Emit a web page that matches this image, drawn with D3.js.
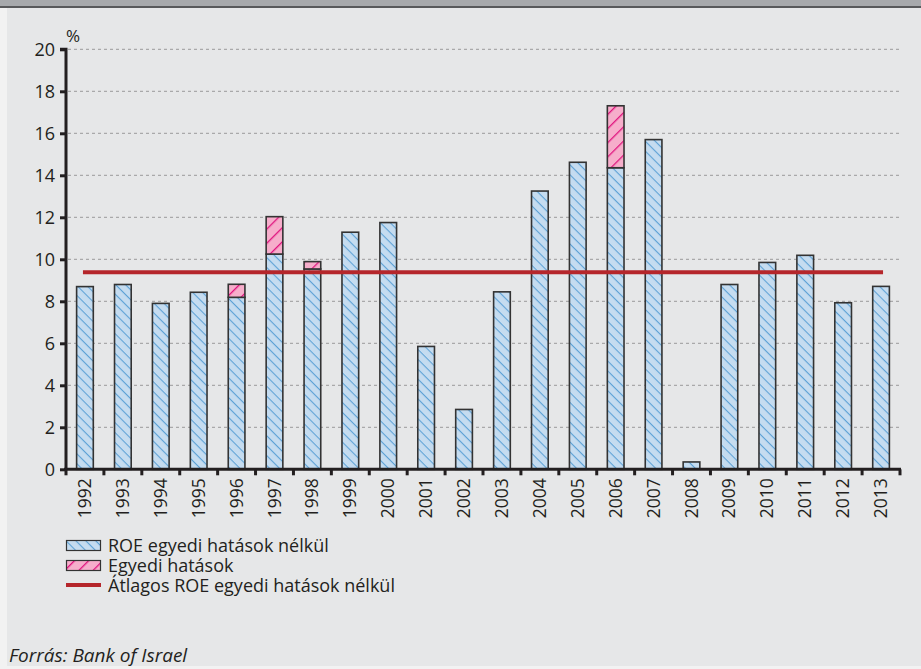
<!DOCTYPE html>
<html>
<head>
<meta charset="utf-8">
<script src="https://cdn.jsdelivr.net/npm/d3@7/dist/d3.min.js"></script>
<style>
  body { margin: 0; background: #f2f2f2; }
  svg { display: block; font-family: "Open Sans", sans-serif; }
</style>
</head>
<body>
<svg width="921" height="669"></svg>
<script>
//data
var years = ["1992", "1993", "1994", "1995", "1996", "1997", "1998", "1999", "2000", "2001", "2002",
    "2003", "2004", "2005", "2006", "2007", "2008", "2009", "2010", "2011", "2012", "2013"];
var roeBase = [8.7, 8.8, 7.9, 8.43, 8.19, 10.25, 9.54, 11.29, 11.75, 5.85, 2.85,
    8.45, 13.25, 14.62, 14.36, 15.7, 0.35, 8.8, 9.85, 10.19, 7.93, 8.71];
var oneOff = [0, 0, 0, 0, 0.62, 1.78, 0.35, 0, 0, 0, 0,
    0, 0, 0, 2.95, 0, 0, 0, 0, 0, 0, 0];
var avgRoe = 9.38;
var yTicks = [0, 2, 4, 6, 8, 10, 12, 14, 16, 18, 20];
var legendLabels = ["ROE egyedi hatások nélkül", "Egyedi hatások", "Átlagos ROE egyedi hatások nélkül"];

var svg = d3.select("svg");

//background panel
svg.append("rect").attr("x", 7).attr("y", 0).attr("width", 914).attr("height", 666).attr("fill", "#e6e7e8");
svg.append("rect").attr("x", 0).attr("y", 0).attr("width", 921).attr("height", 6).attr("fill", "#a7a9ac");
svg.append("rect").attr("x", 0).attr("y", 6).attr("width", 921).attr("height", 2).attr("fill", "#58595b");

//patterns
var defs = svg.append("defs");
var pBlue = defs.append("pattern").attr("id", "hatchBlue").attr("patternUnits", "userSpaceOnUse")
    .attr("width", 7).attr("height", 7).attr("patternTransform", "rotate(45)");
pBlue.append("rect").attr("width", 7).attr("height", 7).attr("fill", "#c5dcf0");
pBlue.append("line").attr("x1", 0).attr("y1", 0).attr("x2", 7).attr("y2", 0)
    .attr("stroke", "#5ea2d6").attr("stroke-width", 2.2);

var pPink = defs.append("pattern").attr("id", "hatchPink").attr("patternUnits", "userSpaceOnUse")
    .attr("width", 10).attr("height", 10).attr("patternTransform", "rotate(-45)");
pPink.append("rect").attr("width", 10).attr("height", 10).attr("fill", "#f6aecb");
pPink.append("line").attr("x1", 0).attr("y1", 0).attr("x2", 10).attr("y2", 0)
    .attr("stroke", "#e0147f").attr("stroke-width", 2.6);

//scales
var x = d3.scaleBand().domain(years).range([66, 900]).paddingInner(0.56).paddingOuter(0.28);
var y = d3.scaleLinear().domain([0, 20]).range([469.3, 49.3]);

//gridlines
svg.append("g").selectAll("line")
    .data(yTicks.filter(function (d) { return d > 0; }))
    .enter().append("line")
    .attr("x1", 68).attr("x2", 900)
    .attr("y1", function (d) { return y(d); }).attr("y2", function (d) { return y(d); })
    .attr("stroke", "#9a9a9a").attr("stroke-width", 1).attr("stroke-dasharray", "3,3");

//bars
var bars = svg.append("g");
bars.selectAll(".base").data(years).enter().append("rect")
    .attr("class", "base")
    .attr("x", function (d) { return x(d); })
    .attr("width", x.bandwidth())
    .attr("y", function (d, i) { return y(roeBase[i]); })
    .attr("height", function (d, i) { return y(0) - y(roeBase[i]); })
    .attr("fill", "url(#hatchBlue)")
    .attr("stroke", "#333").attr("stroke-width", 1.6);

bars.selectAll(".oneoff").data(years.filter(function (d, i) { return oneOff[i] > 0; })).enter().append("rect")
    .attr("class", "oneoff")
    .attr("x", function (d) { return x(d); })
    .attr("width", x.bandwidth())
    .attr("y", function (d) { var i = years.indexOf(d); return y(roeBase[i] + oneOff[i]); })
    .attr("height", function (d) { var i = years.indexOf(d); return y(roeBase[i]) - y(roeBase[i] + oneOff[i]); })
    .attr("fill", "url(#hatchPink)")
    .attr("stroke", "#333").attr("stroke-width", 1.6);

//average line
svg.append("line")
    .attr("x1", x(years[0]) + x.bandwidth() / 2 - 2)
    .attr("x2", x(years[years.length - 1]) + x.bandwidth() / 2 + 2)
    .attr("y1", y(avgRoe)).attr("y2", y(avgRoe))
    .attr("stroke", "#b5262b").attr("stroke-width", 4);

//y axis
var yAxis = svg.append("g").attr("transform", "translate(66,0)")
    .call(d3.axisLeft(y).tickValues(yTicks).tickSize(6).tickPadding(5));
yAxis.select(".domain").attr("stroke", "#231f20").attr("stroke-width", 3).attr("d", "M-6,49.3H0V469.3");
yAxis.selectAll(".tick line").attr("stroke", "#231f20").attr("stroke-width", 3);
yAxis.selectAll("text").attr("font-size", 18).attr("fill", "#231f20").attr("font-family", "Open Sans");

svg.append("text").attr("x", 66).attr("y", 42).attr("font-size", 17).attr("fill", "#231f20").text("%");

//x axis
var xg = svg.append("g").attr("transform", "translate(0," + y(0) + ")");
xg.append("line").attr("x1", 64).attr("x2", 901).attr("y1", 0).attr("y2", 0)
    .attr("stroke", "#231f20").attr("stroke-width", 3);
xg.selectAll(".xtick").data(d3.range(years.length + 1)).enter().append("line")
    .attr("x1", function (d) { return 66 + d * x.step(); })
    .attr("x2", function (d) { return 66 + d * x.step(); })
    .attr("y1", 0).attr("y2", 6)
    .attr("stroke", "#231f20").attr("stroke-width", 3);
xg.selectAll(".xlab").data(years).enter().append("text")
    .attr("transform", function (d) { return "translate(" + (x(d) + x.bandwidth() / 2 + 6) + ",9) rotate(-90)"; })
    .attr("text-anchor", "end")
    .attr("font-size", 17.5).attr("fill", "#231f20")
    .text(function (d) { return d; });

//legend
var lg = svg.append("g").attr("transform", "translate(66,540)");
lg.append("rect").attr("x", 0.5).attr("y", 0.5).attr("width", 34).attr("height", 10)
    .attr("fill", "url(#hatchBlue)").attr("stroke", "#333").attr("stroke-width", 1.2);
lg.append("rect").attr("x", 0.5).attr("y", 20.5).attr("width", 34).attr("height", 10)
    .attr("fill", "url(#hatchPink)").attr("stroke", "#333").attr("stroke-width", 1.2);
lg.append("line").attr("x1", 0).attr("x2", 35).attr("y1", 45).attr("y2", 45)
    .attr("stroke", "#b5262b").attr("stroke-width", 4);
lg.selectAll("text").data(legendLabels).enter().append("text")
    .attr("x", 42).attr("y", function (d, i) { return 12 + i * 20; })
    .attr("font-size", 18).attr("fill", "#231f20")
    .text(function (d) { return d; });

//source
svg.append("text").attr("x", 9).attr("y", 662).attr("font-size", 19).attr("font-style", "italic")
    .attr("fill", "#231f20").text("Forrás: Bank of Israel");
</script>
</body>
</html>
